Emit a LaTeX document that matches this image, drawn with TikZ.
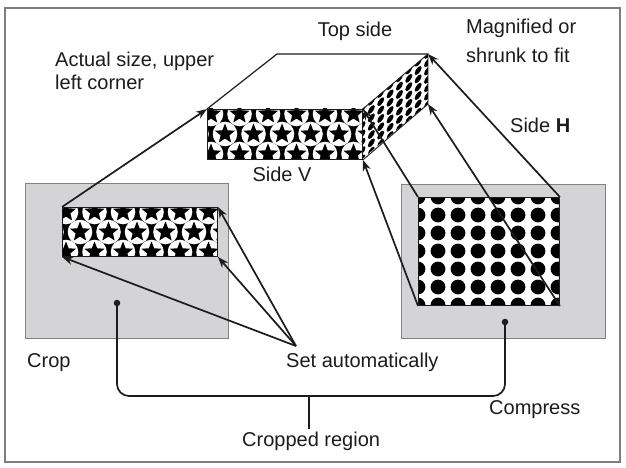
\documentclass[tikz,border=0pt]{standalone}
\usepackage{fontspec}
\setmainfont{Liberation Sans}
\usetikzlibrary{arrows.meta}
\definecolor{boxgray}{RGB}{212,212,214}
\definecolor{boxedge}{RGB}{130,130,130}
\definecolor{framegray}{RGB}{125,125,125}
\definecolor{ink}{RGB}{28,28,28}
\newcommand{\mystarat}[2]{\fill[black,shift={(#1,#2)}] (270:10.5) -- (306:4.6) -- (342:10.5) -- (18:4.6) -- (54:10.5) -- (90:4.6) -- (126:10.5) -- (162:4.6) -- (198:10.5) -- (234:4.6) -- cycle;}
% star pattern: #1,#2 top-left, #3 width, #4 height
\newcommand{\starpatt}[4]{%
  \begin{scope}
    \clip (#1,#2) rectangle ++(#3,#4);
    \fill[black] (#1,#2) rectangle ++(#3,#4);
    \foreach \i in {-1,...,6}{
      \pgfmathsetmacro{\xa}{#1+4+28.5*\i}
      \pgfmathsetmacro{\xb}{#1+18+28.5*\i}
      \pgfmathsetmacro{\ya}{#2+5}
      \pgfmathsetmacro{\yb}{#2+25}
      \pgfmathsetmacro{\yc}{#2+45}
      \fill[white] (\xa,\ya) circle (12.3);
      \fill[white] (\xb,\yb) circle (12.3);
      \fill[white] (\xa,\yc) circle (12.3);
      \mystarat{\xa}{\ya}
      \mystarat{\xb}{\yb}
      \mystarat{\xa}{\yc}
    }
  \end{scope}}
% dot pattern in local coordinates 0..141 x 0..108
\newcommand{\dotpatt}{%
  \begin{scope}
    \clip (0,0) rectangle (141,108);
    \fill[white] (0,0) rectangle (141,108);
    \foreach \i in {0,...,7}{
      \foreach \j in {0,...,6}{
        \fill[black] (20*\i,18*\j) circle (7.4);
      }
    }
  \end{scope}}
\begin{document}
\begin{tikzpicture}[x=1pt,y=-1pt,
  line/.style={line width=1.7pt, draw=ink},
  arr/.style={line, -{Stealth[length=11pt,width=8pt]}},
  graybox/.style={fill=boxgray, draw=boxedge, line width=1.3pt, inner sep=0pt, anchor=north west},
  patbox/.style={draw=ink, line width=0.9pt, inner sep=0pt, anchor=north west},
  lbl/.style={inner sep=0pt, text=ink, font=\fontsize{20}{23}\selectfont},
  enddot/.style={circle, fill=ink, inner sep=0pt, minimum size=6.5pt},
]
\useasboundingbox (0,0) rectangle (626,468);
\fill[white] (0,0) rectangle (626,468);
\draw[framegray, line width=1.5pt] (5,8) rectangle (620,462);

% gray boxes
\node[graybox, minimum width=203pt, minimum height=155pt] (grayL) at (25,183) {};
\node[graybox, minimum width=204pt, minimum height=154pt] (grayR) at (401,184) {};

% patterns
\starpatt{62}{207}{155}{49}
\starpatt{207}{109}{155}{50}
\begin{scope}[shift={(418,197)}]
  \dotpatt
\end{scope}
\begin{scope}[cm={0.468,0.390,0,0.463,(362,109)}]
  \dotpatt
\end{scope}

% pattern frames
\node[patbox, minimum width=155pt, minimum height=49pt] (starL) at (62,207) {};
\node[patbox, minimum width=155pt, minimum height=50pt] (starT) at (207,109) {};
\node[patbox, minimum width=141pt, minimum height=108pt] (dots) at (418,197) {};

\coordinate (hTR) at (428,54);
\coordinate (hBR) at (428,104);
\coordinate (topL) at (277,54);
\draw[ink, line width=0.9pt] (starT.north east) -- (hTR) -- (hBR) -- (starT.south east);
\draw[ink, line width=1.2pt] (starT.north west) -- (topL) -- (hTR);

% arrows
\draw[arr] (starL.north west) -- (starT.north west);
\coordinate (sa) at (296,346);
\draw[arr] (sa) -- (starL.north east);
\draw[arr] (sa) -- (starL.south east);
\draw[arr] (sa) -- (starL.south west);
\draw[arr] (dots.south west) -- (starT.south east);
\draw[arr] (dots.north west) -- (starT.north east);
\draw[arr] (dots.south east) -- (hBR);
\draw[arr] (dots.north east) -- (hTR);

% labels
\node[lbl, anchor=base] (topside) at (355,37) {Top side};
\node[lbl, anchor=north west, align=left, font=\fontsize{20}{29}\selectfont] (magn) at (466,19) {Magnified or\\shrunk to fit};
\node[lbl, anchor=north west, align=left] (actual) at (55,52) {Actual size, upper\\left corner};
\node[lbl, anchor=base] (sideV) at (282,181) {Side V};
\node[lbl, anchor=base west] (sideH) at (510,132) {Side \textbf{H}};
\node[lbl, anchor=base west] (crop) at (27,367) {Crop};
\node[lbl, anchor=base west] (setauto) at (286,367) {Set automatically};
\node[lbl, anchor=base west] (compress) at (489,414) {Compress};
\node[lbl, anchor=base west, inner sep=2pt] (cropreg) at (240,446) {Cropped region};

% cropped region bracket
\node[enddot] (dL) at (117,303) {};
\node[enddot] (dR) at (505,322) {};
\coordinate (brace) at (309,396);
\draw[line, rounded corners=12pt] (dL.center) |- (brace) -| (dR.center);
\draw[line] (brace) -- (brace |- cropreg.north);
\end{tikzpicture}
\end{document}
